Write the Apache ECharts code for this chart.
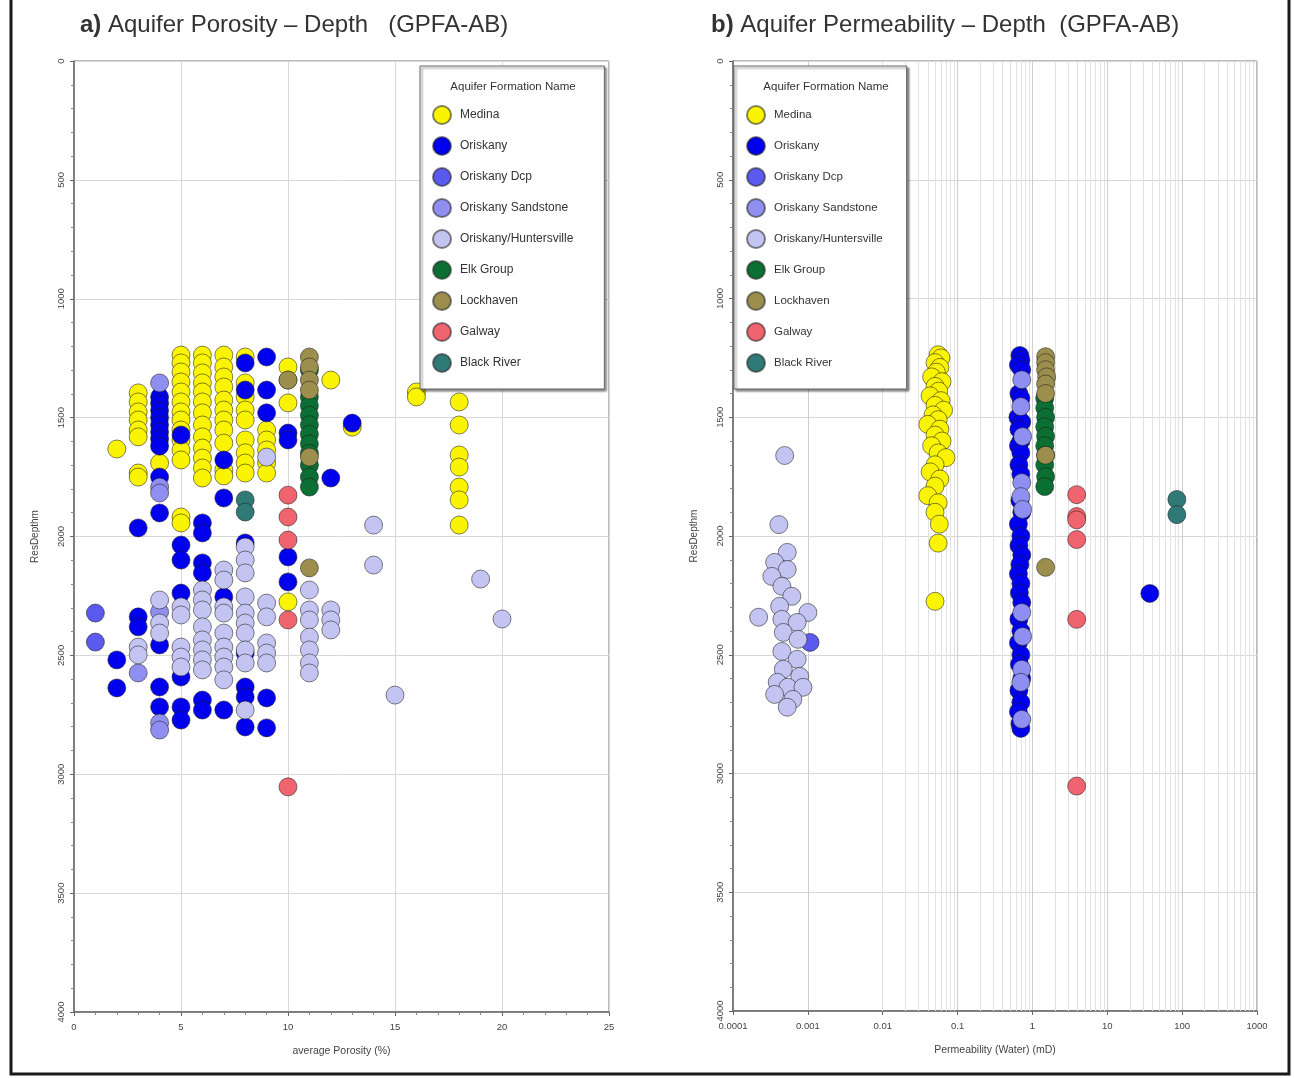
<!DOCTYPE html>
<html>
<head>
<meta charset="utf-8">
<title>Aquifer Porosity / Permeability - Depth (GPFA-AB)</title>
<script src="https://cdn.jsdelivr.net/npm/echarts@6/dist/echarts.min.js"></script>
<style>
  html, body { margin: 0; padding: 0; background: #fff; }
  #chart { width: 1294px; height: 1078px; }
</style>
</head>
<body>
<div id="chart"></div>
<script>
// formation names + colours (legend order)
const formations = ['Medina', 'Oriskany', 'Oriskany Dcp', 'Oriskany Sandstone', 'Oriskany/Huntersville',
    'Elk Group', 'Lockhaven', 'Galway', 'Black River'];
const formationColors = ['#fbf400', '#0000ee', '#5a5aee', '#8f8ff2', '#c4c4f2',
    '#0b6e32', '#9c8f4e', '#f0646f', '#2f7a76'];

// a) porosity (%) vs depth (m)
const medinaPorosity = [[2,1632],
    [3,1396],[3,1434],[3,1476],[3,1510],[3,1552],[3,1581],[3,1733],[3,1750],
    [4,1691],
    [5,1237],[5,1270],[5,1308],[5,1350],[5,1392],[5,1434],[5,1476],[5,1510],[5,1552],[5,1594],[5,1636],[5,1678],[5,1918],[5,1943],
    [6,1237],[6,1270],[6,1312],[6,1354],[6,1392],[6,1434],[6,1480],[6,1531],[6,1581],[6,1628],[6,1670],[6,1712],[6,1754],
    [7,1237],[7,1287],[7,1329],[7,1371],[7,1426],[7,1468],[7,1510],[7,1552],[7,1607],[7,1720],[7,1745],
    [8,1245],[8,1354],[8,1413],[8,1468],[8,1510],[8,1594],[8,1648],[8,1691],[8,1733],
    [9,1552],[9,1594],[9,1636],[9,1691],[9,1733],
    [10,1287],[10,1342],[10,1438],[10,2275],
    [12,1342],[13,1540],[16,1392],[16,1413],
    [18,1434],[18,1531],[18,1657],[18,1708],[18,1792],[18,1846],[18,1952]];
const oriskanyPorosity = [[2,2519],[2,2637],
    [3,1964],[3,2338],[3,2380],
    [4,1413],[4,1440],[4,1470],[4,1500],[4,1530],[4,1560],[4,1590],[4,1620],[4,1750],[4,1901],[4,2456],[4,2633],[4,2717],
    [5,1573],[5,2036],[5,2099],[5,2238],[5,2591],[5,2717],[5,2772],
    [6,1943],[6,1985],[6,2111],[6,2153],[6,2688],[6,2730],
    [7,1678],[7,1838],[7,2254],[7,2730],
    [8,1270],[8,1384],[8,2027],[8,2490],[8,2633],[8,2675],[8,2801],
    [9,1245],[9,1384],[9,1480],[9,2679],[9,2805],
    [10,1565],[10,1594],[10,2086],[10,2191],
    [12,1754],[13,1523]];
const oriskanyDcpPorosity = [[1,2322],[1,2444]];
const oriskanySandstonePorosity = [[4,1354],[4,1792],[4,1817],[4,2317],[4,2784],[4,2814],[3,2574]];
const huntersvillePorosity = [[3,2465],[3,2498],
    [4,2267],[4,2364],[4,2406],
    [5,2296],[5,2330],[5,2465],[5,2507],[5,2549],
    [6,2225],[6,2267],[6,2309],[6,2380],[6,2435],[6,2477],[6,2519],[6,2561],
    [7,2141],[7,2183],[7,2296],[7,2322],[7,2406],[7,2465],[7,2507],[7,2549],[7,2603],
    [8,2044],[8,2099],[8,2153],[8,2254],[8,2322],[8,2364],[8,2406],[8,2477],[8,2532],[8,2730],
    [9,1666],[9,2280],[9,2338],[9,2448],[9,2490],[9,2532],
    [11,2225],[11,2309],[11,2351],[11,2423],[11,2477],[11,2532],[11,2574],
    [12,2309],[12,2351],[12,2393],
    [14,1952],[14,2120],[15,2667],[19,2179],[20,2347]];
const elkPorosity = [[11,1300],[11,1413],[11,1450],[11,1490],[11,1530],[11,1570],[11,1610],[11,1650],[11,1700],[11,1750],[11,1792]];
const lockhavenPorosity = [[11,1245],[11,1287],[11,1342],[11,1384],[11,1666],[11,2132],[10,1342]];
const galwayPorosity = [[10,1826],[10,1918],[10,2015],[10,2351],[10,3053]];
const blackRiverPorosity = [[8,1846],[8,1897]];

// b) permeability (mD) vs depth (m)
const medinaPerm = [[0.055,1237],[0.06,1250],[0.05,1270],[0.058,1290],[0.052,1310],[0.045,1330],[0.062,1350],
    [0.05,1370],[0.056,1390],[0.043,1410],[0.06,1430],[0.05,1450],[0.065,1470],[0.047,1490],[0.055,1510],
    [0.04,1530],[0.058,1550],[0.05,1575],[0.062,1600],[0.045,1620],[0.055,1650],[0.07,1670],[0.05,1700],
    [0.043,1730],[0.058,1760],[0.05,1790],[0.04,1830],[0.055,1860],[0.05,1900],[0.057,1950],[0.055,2030],[0.05,2275]];
const oriskanyPerm = [[0.68,1240],[0.7,1260],[0.65,1280],[0.72,1300],[0.66,1400],[0.7,1420],[0.64,1500],[0.72,1520],
    [0.66,1550],[0.7,1600],[0.65,1620],[0.7,1650],[0.66,1700],[0.7,1740],[0.68,1850],[0.72,1900],[0.65,1950],
    [0.7,2000],[0.66,2040],[0.72,2080],[0.68,2120],[0.65,2160],[0.7,2200],[0.67,2240],[0.72,2280],[0.66,2350],
    [0.7,2400],[0.65,2450],[0.7,2500],[0.67,2540],[0.72,2600],[0.66,2650],[0.7,2700],[0.65,2740],[0.68,2790],[0.7,2810],
    [37,2242]];
const oriskanyDcpPerm = [[0.00107,2448]];
const oriskanySandstonePerm = [[0.72,1342],[0.7,1455],[0.74,1581],[0.72,1775],[0.7,1834],[0.74,1888],
    [0.72,2322],[0.74,2423],[0.72,2561],[0.7,2616],[0.72,2772]];
const huntersvillePerm = [[0.00049,1661],[0.00041,1952],[0.00053,2069],[0.00036,2111],[0.00053,2141],[0.00033,2170],
    [0.00045,2212],[0.00061,2254],[0.00042,2296],[0.001,2322],[0.00022,2342],[0.00045,2351],[0.00072,2364],
    [0.00047,2406],[0.00074,2435],[0.00045,2486],[0.00072,2519],[0.00047,2561],[0.00078,2591],[0.00039,2616],
    [0.00054,2637],[0.00086,2637],[0.00036,2667],[0.00063,2688],[0.00053,2721]];
const elkPerm = [[1.46,1420],[1.46,1460],[1.5,1500],[1.46,1540],[1.5,1580],[1.46,1620],[1.5,1660],[1.46,1700],[1.5,1750],[1.46,1792]];
const lockhavenPerm = [[1.5,1245],[1.5,1270],[1.5,1300],[1.55,1330],[1.5,1360],[1.5,1400],[1.5,1660],[1.5,2132]];
const galwayPerm = [[3.9,1826],[3.9,1918],[3.9,1932],[3.9,2015],[3.9,2351],[3.9,3053]];
const blackRiverPerm = [[85,1846],[85,1910]];

const porosityData = [medinaPorosity, oriskanyPorosity, oriskanyDcpPorosity, oriskanySandstonePorosity,
    huntersvillePorosity, elkPorosity, lockhavenPorosity, galwayPorosity, blackRiverPorosity];
const permData = [medinaPerm, oriskanyPerm, oriskanyDcpPerm, oriskanySandstonePerm,
    huntersvillePerm, elkPerm, lockhavenPerm, galwayPerm, blackRiverPerm];

// minor log grid lines (2..9 per decade)
const logDecades = [0.0001, 0.001, 0.01, 0.1, 1, 10, 100];
const logSteps = [2, 3, 4, 5, 6, 7, 8, 9];

const labelColor = '#444';
const labelFont = 'Liberation Sans';

function depthAxis(gridIndex) {
    return {
        type: 'value', gridIndex: gridIndex, inverse: true,
        min: 0, max: 4000, interval: 500,
        name: 'ResDepthm', nameLocation: 'middle', nameGap: 34,
        nameTextStyle: { fontSize: 10, color: labelColor, fontFamily: labelFont },
        axisLine: { lineStyle: { color: '#666', width: 1.5 } },
        axisTick: { length: 4, lineStyle: { color: '#666' } },
        minorTick: { show: true, splitNumber: 5, length: 3, lineStyle: { color: '#888' } },
        axisLabel: { rotate: 90, fontSize: 9.5, color: labelColor, fontFamily: labelFont, margin: 8,
            formatter: v => String(v) },
        splitLine: { lineStyle: { color: '#d8d8d8' } }
    };
}

function legendBox(left, rightPad, fontSize) {
    return {
        orient: 'vertical', left: left, top: 66,
        data: formations,
        padding: [39, rightPad, 16, 12],
        itemWidth: 18, itemHeight: 18, itemGap: 11,
        icon: 'circle',
        backgroundColor: '#fff', borderColor: '#666', borderWidth: 1,
        shadowColor: 'rgba(0,0,0,0.45)', shadowBlur: 2, shadowOffsetX: 2, shadowOffsetY: 2,
        textStyle: { fontSize: fontSize, color: '#333', fontFamily: labelFont, padding: [0, 0, 0, 4] },
        selectedMode: false
    };
}

const series = [];
formations.forEach((name, i) => {
    const style = { color: formationColors[i], borderColor: 'rgba(30,30,30,0.55)', borderWidth: 1, opacity: 1 };
    series.push({
        name: name, type: 'scatter', xAxisIndex: 0, yAxisIndex: 0,
        symbolSize: 18, itemStyle: style, data: porosityData[i]
    });
    series.push({
        name: name, type: 'scatter', xAxisIndex: 1, yAxisIndex: 1,
        symbolSize: 18, itemStyle: style, data: permData[i]
    });
});

const minorLines = [];
logDecades.forEach(d => logSteps.forEach(s => minorLines.push({ xAxis: +(d * s).toPrecision(3) })));
series.unshift({
    type: 'scatter', xAxisIndex: 1, yAxisIndex: 1, data: [], silent: true, z: 1,
    markLine: {
        silent: true, symbol: 'none', animation: false, z: 1,
        label: { show: false },
        lineStyle: { color: '#e2e2e2', width: 1, type: 'solid' },
        data: minorLines
    }
});

const titleStyle = { fontSize: 24, fontWeight: 'normal', color: '#333', fontFamily: labelFont,
    rich: { b: { fontSize: 24, fontWeight: 'bold', color: '#333', fontFamily: labelFont } } };

const chart = echarts.init(document.getElementById('chart'));
chart.setOption({
    backgroundColor: '#fff',
    animation: false,
    title: [
        { text: '{b|a)} Aquifer Porosity – Depth   (GPFA-AB)', left: 75, top: 8, textStyle: titleStyle },
        { text: '{b|b)} Aquifer Permeability – Depth  (GPFA-AB)', left: 706, top: 8, textStyle: titleStyle }
    ],
    legend: [legendBox(420, 31, 12), legendBox(734, 24, 11.5)],
    grid: [
        { left: 74, top: 61, width: 535, height: 951, show: true, borderColor: '#777', borderWidth: 1, outerBoundsMode: 'none' },
        { left: 733, top: 61, width: 524, height: 950, show: true, borderColor: '#777', borderWidth: 1, outerBoundsMode: 'none' }
    ],
    xAxis: [
        {
            type: 'value', gridIndex: 0, min: 0, max: 25, interval: 5,
            name: 'average Porosity (%)', nameLocation: 'middle', nameGap: 34,
            nameTextStyle: { fontSize: 10.5, color: labelColor, fontFamily: labelFont },
            axisLine: { onZero: false, lineStyle: { color: '#666', width: 1.5 } },
            axisTick: { length: 4, lineStyle: { color: '#666' } },
            minorTick: { show: true, splitNumber: 5, length: 3, lineStyle: { color: '#888' } },
            axisLabel: { fontSize: 9.5, color: labelColor, fontFamily: labelFont, margin: 10 },
            splitLine: { lineStyle: { color: '#d8d8d8' } }
        },
        {
            type: 'log', gridIndex: 1, min: 0.0001, max: 1000, logBase: 10,
            name: 'Permeability (Water) (mD)', nameLocation: 'middle', nameGap: 34,
            nameTextStyle: { fontSize: 10.5, color: labelColor, fontFamily: labelFont },
            axisLine: { onZero: false, lineStyle: { color: '#666', width: 1.5 } },
            axisTick: { length: 4, lineStyle: { color: '#666' } },
            axisLabel: { fontSize: 9.5, color: labelColor, fontFamily: labelFont, margin: 10,
                formatter: v => String(+v.toPrecision(3)) },
            splitLine: { lineStyle: { color: '#cfcfcf' } }
        }
    ],
    yAxis: [depthAxis(0), depthAxis(1)],
    graphic: [
        {
            type: 'text', z: 100, silent: true, x: 513, y: 87,
            style: { text: 'Aquifer Formation Name', fill: '#333', font: '11.5px "Liberation Sans"',
                align: 'center', verticalAlign: 'middle' }
        },
        {
            type: 'text', z: 100, silent: true, x: 826, y: 87,
            style: { text: 'Aquifer Formation Name', fill: '#333', font: '11.5px "Liberation Sans"',
                align: 'center', verticalAlign: 'middle' }
        },
        {
            type: 'rect', z: 100, silent: true,
            shape: { x: 11, y: -4, width: 1278, height: 1078 },
            style: { fill: 'none', stroke: '#1a1a1a', lineWidth: 3 }
        }
    ],
    series: series
});
</script>
</body>
</html>
